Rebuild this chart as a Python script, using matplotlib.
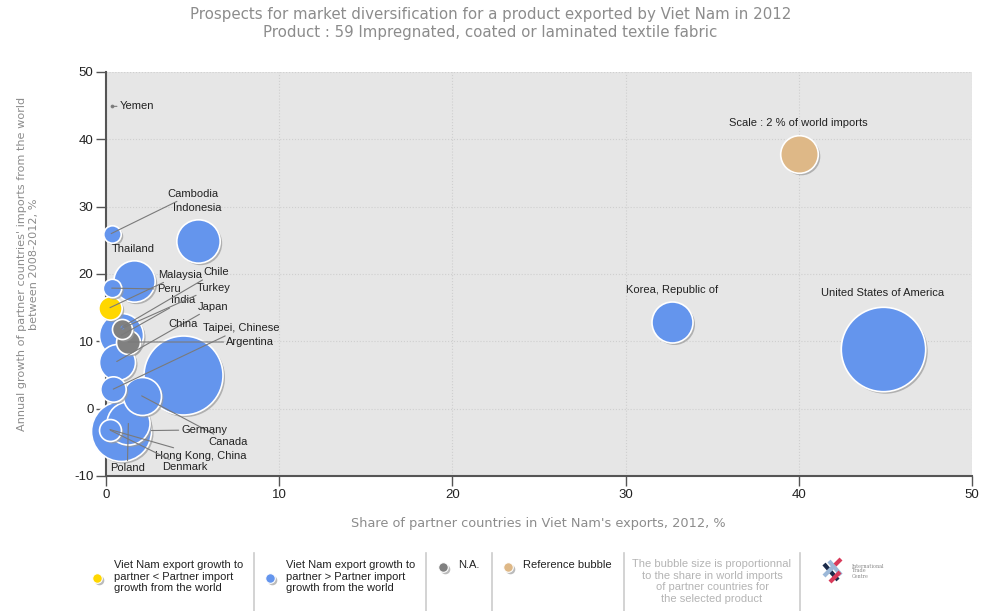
import numpy as np
import matplotlib.pyplot as plt
from matplotlib import transforms

# Partner markets: share in Viet Nam's exports (%), partner import growth 2008-2012 (%),
# partner share in world imports (%) and export-growth group
partners = ['Yemen', 'Cambodia', 'Thailand', 'Indonesia', '', 'Peru', 'Malaysia',
            'India', 'Turkey', 'Chile', 'Argentina', 'Japan', 'China', 'Taipei, Chinese',
            'Canada', 'Germany', 'Poland', 'Hong Kong, China', 'Denmark',
            'Korea, Republic of', 'United States of America']
export_share = [0.33, 0.30, 0.33, 5.31, 1.59, 0.33, 0.23,
                0.88, 0.90, 0.92, 1.29, 0.62, 4.46, 0.42,
                2.06, 0.89, 1.29, 0.23, 0.25,
                32.7, 44.84]
import_growth = [44.9, 26.0, 25.9, 24.9, 18.9, 17.9, 15.0,
                 10.9, 11.9, 12.1, 9.9, 7.0, 5.0, 2.9,
                 1.9, -3.3, -2.2, -3.1, -3.2,
                 12.8, 8.8]
world_share = [0.02, 0.01, 0.43, 2.66, 2.42, 0.48, 0.77,
               2.74, 0.57, 0.02, 0.81, 1.83, 8.83, 0.91,
               2.04, 5.09, 2.62, 0.68, 0.03,
               2.38, 10.08]
group = ['na', 'up', 'up', 'up', 'up', 'up', 'down',
         'up', 'na', 'up', 'na', 'up', 'up', 'up',
         'up', 'up', 'up', 'up', 'up',
         'up', 'up']

# reference bubble
ref_share, ref_growth, ref_size = 40.0, 37.8, 2.0

colors = {'up': '#6495ED', 'down': '#FFD700', 'na': '#808080', 'ref': '#DEB887'}

# label offsets from bubble centre in pixels: (dx, dy, ha, leader line)
label_pos = {
    'Yemen': (8, 0, 'left', True),
    'Cambodia': (56, 40, 'left', True),
    'Thailand': (0, -15, 'left', False),
    'Indonesia': (-1, 33, 'center', False),
    'Peru': (45, -1, 'left', True),
    'Malaysia': (48, 33, 'left', True),
    'India': (50, 35, 'left', True),
    'Turkey': (75, 41, 'left', True),
    'Chile': (81, 55, 'left', True),
    'Argentina': (98, 0, 'left', True),
    'Japan': (81, 55, 'left', True),
    'China': (0, 51, 'center', False),
    'Taipei, Chinese': (90, 61, 'left', True),
    'Canada': (67, -46, 'left', True),
    'Germany': (60, 1, 'left', True),
    'Poland': (-1, -45, 'center', True),
    'Hong Kong, China': (45, -26, 'left', True),
    'Denmark': (52, -37, 'left', True),
    'Korea, Republic of': (0, 32, 'center', False),
    'United States of America': (0, 56, 'center', False),
}

DPI = 100
REF_RADIUS = 18.8  # pixels for a 2 % share


def radius_pt(s):
    return REF_RADIUS * np.sqrt(s / 2.0) * 72.0 / DPI


def bubble_area(s):
    return (2 * radius_pt(s)) ** 2


plt.rcParams['font.family'] = ['Liberation Sans', 'DejaVu Sans']
plt.rcParams['axes.unicode_minus'] = False

fig = plt.figure(figsize=(9.81, 6.11), dpi=DPI)
ax = fig.add_axes([106 / 981, 1 - 476 / 611, 866 / 981, 404 / 611])
ax.set_facecolor('#e6e6e6')
ax.set_xlim(0, 50)
ax.set_ylim(-10, 50)
ax.set_xticks(range(0, 51, 10))
ax.set_yticks(range(-10, 51, 10))
ax.grid(True, color='#cfcfcf', linestyle=':', linewidth=0.8)
ax.set_axisbelow(True)
for side in ['top', 'right']:
    ax.spines[side].set_visible(False)
for side in ['left', 'bottom']:
    ax.spines[side].set_color('#555555')
    ax.spines[side].set_linewidth(1.5)
ax.tick_params(direction='out', length=7, width=1, color='#555555',
               labelsize=9.5, labelcolor='#222222', pad=2)

shadow = transforms.offset_copy(ax.transData, fig=fig, x=2, y=-2, units='dots')

# bubbles, biggest first so small ones stay visible
order = np.argsort(world_share)[::-1]
z = 3
for i in order:
    area = bubble_area(world_share[i])
    tiny = world_share[i] < 0.1
    if not tiny:
        ax.scatter(export_share[i], import_growth[i], s=area, color='#9a9a9a', alpha=0.7,
                   linewidths=0, transform=shadow, zorder=z, clip_on=False)
    ax.scatter(export_share[i], import_growth[i], s=area, color=colors[group[i]],
               edgecolors='white', linewidths=0 if tiny else 1.2,
               zorder=z + 1, clip_on=False)
    z += 2

ax.scatter(ref_share, ref_growth, s=bubble_area(ref_size), color='#9a9a9a', alpha=0.7,
           linewidths=0, transform=shadow, zorder=z)
ax.scatter(ref_share, ref_growth, s=bubble_area(ref_size), color=colors['ref'],
           edgecolors='white', linewidths=1.2, zorder=z + 1)
ax.annotate('Scale : 2 % of world imports', xy=(ref_share, ref_growth), xytext=(0, 31),
            textcoords='offset pixels', ha='center', va='center', fontsize=8,
            color='#222222', zorder=200)

# country labels with leader lines
for name, x, y, s in zip(partners, export_share, import_growth, world_share):
    if name not in label_pos:
        continue
    dx, dy, ha, leader = label_pos[name]
    arrow = None
    if leader:
        shrink = radius_pt(s) if name == 'Germany' else 0
        arrow = dict(arrowstyle='-', color='#7a7a7a', lw=0.8, shrinkA=0, shrinkB=shrink)
    ax.annotate(name, xy=(x, y), xytext=(dx, dy), textcoords='offset pixels',
                ha=ha, va='center', fontsize=8, color='#222222',
                arrowprops=arrow, zorder=200)

fig.text(538 / 981, 1 - 524 / 611, "Share of partner countries in Viet Nam's exports, 2012, %",
         ha='center', va='center', family='DejaVu Sans', fontsize=9.3, color='#8c8c8c')
fig.text(28 / 981, 1 - 264 / 611,
         "Annual growth of partner countries' imports from the world\nbetween 2008-2012, %",
         ha='center', va='center', rotation=90, multialignment='center',
         family='DejaVu Sans', fontsize=8.1, color='#8c8c8c', linespacing=1.35)

fig.text(0.5, 1 - 15 / 611, 'Prospects for market diversification for a product exported by Viet Nam in 2012',
         ha='center', va='center', family='DejaVu Sans', fontsize=10.8, color='#8c8c8c')
fig.text(0.5, 1 - 32 / 611, 'Product : 59 Impregnated, coated or laminated textile fabric',
         ha='center', va='center', family='DejaVu Sans', fontsize=10.8, color='#8c8c8c')

# legend strip along the bottom, laid out in pixel coordinates
leg = fig.add_axes([0, 0, 1, 1], zorder=-1)
leg.set_xlim(0, 981)
leg.set_ylim(611, 0)
leg.axis('off')

for sx in [254, 426, 492, 624, 800]:
    leg.plot([sx, sx], [553, 611], color='#cccccc', lw=1.2)

legend_items = [
    (97, 578, colors['down'], 114, 566,
     'Viet Nam export growth to\npartner < Partner import\ngrowth from the world'),
    (270, 578, colors['up'], 286, 566,
     'Viet Nam export growth to\npartner > Partner import\ngrowth from the world'),
    (443, 567, colors['na'], 458, 566, 'N.A.'),
    (508, 567, colors['ref'], 523, 566, 'Reference bubble'),
]
for dx_, dy_, c, tx, ty, txt in legend_items:
    leg.scatter(dx_ + 1.5, dy_ + 1.5, s=48, color='#bbbbbb', linewidths=0)
    leg.scatter(dx_, dy_, s=48, color=c, edgecolors='white', linewidths=0.8)
    leg.text(tx, ty - 6, txt, ha='left', va='top', fontsize=8, color='#222222',
             linespacing=1.2)

leg.text(712, 559, 'The bubble size is proportionnal\nto the share in world imports\nof partner countries for\nthe selected product',
         ha='center', va='top', fontsize=8, color='#b4b4b4', linespacing=1.2)

# ITC logo
leg.plot([824, 838], [564, 580], color='#1b2a4a', lw=3, solid_capstyle='butt')
leg.plot([829, 841], [561, 575], color='#9cb8d8', lw=3, solid_capstyle='butt')
leg.plot([824, 834], [576, 566], color='#9cb8d8', lw=3, solid_capstyle='butt')
leg.plot([830, 840], [582, 572], color='#d83a5a', lw=3, solid_capstyle='butt')
leg.plot([835, 841], [565, 559], color='#d83a5a', lw=3, solid_capstyle='butt')
leg.text(852, 571, 'International\nTrade\nCentre', ha='left', va='center',
         fontsize=3.5, color='#8a8a8a', family='DejaVu Serif', linespacing=1.0)

fig.savefig('out.png', dpi=DPI, facecolor='white')
